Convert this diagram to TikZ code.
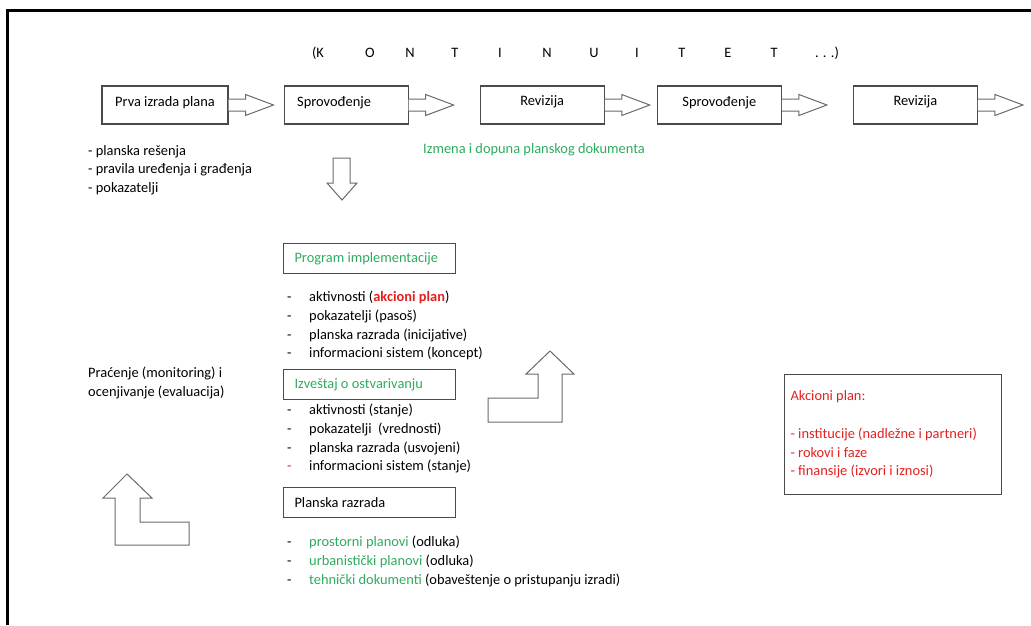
\documentclass[tikz,border=0pt]{standalone}
\usepackage{fontspec}
\setmainfont{Carlito}
\usepackage{tikz}
\usetikzlibrary{positioning,calc}
\definecolor{planred}{HTML}{E3201E}
\definecolor{plangreen}{HTML}{2EAB5E}
\definecolor{boxline}{HTML}{4A4A4A}
\definecolor{arrowline}{HTML}{6A6A6A}
\newcommand\planitem[2][black]{\makebox[22pt][l]{\color{#1}-}#2}
\tikzset{
  stagebox/.style={draw=boxline,line width=1.1pt,minimum width=#1,minimum height=38pt,
                   text depth=8pt,inner sep=0pt},
  stagebox/.default=124pt,
  headbox/.style={draw=boxline,line width=1.1pt,minimum width=172pt,minimum height=30pt,
                  text width=150pt,inner xsep=11pt,inner ysep=0pt,align=left,anchor=north west,
                  execute at begin node={\spaceskip=0pt\xspaceskip=0pt\relax}},
  notebox/.style={draw=boxline,line width=1.1pt,minimum width=217pt,minimum height=120pt,
                  text width=205pt,inner xsep=6pt,align=left,anchor=north west,text=planred,
                  execute at begin node={\spaceskip=0pt\xspaceskip=0pt\relax}},
  listtext/.style={align=left,inner sep=0pt,anchor=north west},
  hollow/.style={draw=arrowline,line width=1pt,fill=white,line join=miter},
}
\begin{document}
\begin{tikzpicture}[x=1pt,y=-1pt,font=\fontsize{14.4}{18.7}\selectfont]
  \useasboundingbox (0,0) rectangle (1031,625);
  \draw[line width=3pt] (7,625) |- (1031,10);
  % title row
  \foreach \ch/\cx [count=\i] in {{(K}/318,O/370,N/410,T/455,I/500,N/547,U/594,I/637,T/682,E/728,T/774,{. . .)}/827}
    \node[inner sep=0pt] (kont\i) at (\cx,53) {\ch};
  % planning cycle
  \node[stagebox=126pt] (prva) at (165,105) {Prva izrada plana};
  \node[stagebox, right=55pt of prva] (sprov1) {Sprovođenje\hspace*{24pt}};
  \node[stagebox, right=71pt of sprov1] (rev1) {Revizija};
  \node[stagebox, right=52pt of rev1] (sprov2) {Sprovođenje};
  \node[stagebox, right=71pt of sprov2] (rev2) {Revizija};
  \foreach \b in {prva,sprov1,rev1,sprov2,rev2}
    \draw[hollow] ($(\b.east)+(0,-6)$) -- ++(17,0) -- ++(0,-4.5) -- ($(\b.east)+(45,0)$)
      -- ($(\b.east)+(17,10.5)$) -- ++(0,-4.5) -- ($(\b.east)+(0,6)$);
  \node[listtext] (prvalist) at (88,145) {- planska rešenja\\- pravila uređenja i građenja\\- pokazatelji};
  \node[anchor=west,inner sep=0pt,text=plangreen] (izmena) at (423,150) {Izmena i dopuna planskog dokumenta};
  \draw[hollow] (333,158) -- (350,158) -- (350,183) -- (357,183) -- (342,200) -- (327,183) -- (333,183) -- cycle;
  % implementation
  \node[headbox,text=plangreen] (program) at (283,243) {Program implementacije};
  \node[listtext] (programlist) at (287,291) {\planitem{aktivnosti (\textbf{\color{planred}akcioni plan})}\\
     \planitem{pokazatelji (pasoš)}\\ \planitem{planska razrada (inicijative)}\\ \planitem{informacioni sistem (koncept)}};
  \node[headbox,text=plangreen] (izvestaj) at (283,369) {Izveštaj o ostvarivanju};
  \node[listtext] (izvestajlist) at (287,404) {\planitem{aktivnosti (stanje)}\\
     \planitem{pokazatelji~ (vrednosti)}\\ \planitem{planska razrada (usvojeni)}\\ \planitem[planred]{informacioni sistem (stanje)}};
  \node[headbox] (razrada) at (283,487) {Planska razrada};
  \node[listtext] (razradalist) at (287,536) {\planitem{\textcolor{plangreen}{prostorni planovi} (odluka)}\\
     \planitem{\textcolor{plangreen}{urbanistički planovi} (odluka)}\\
     \planitem{\textcolor{plangreen}{tehnički dokumenti} (obaveštenje o pristupanju izradi)}};
  \node[anchor=west,align=left,inner sep=0pt] (pracenje) at (88,383) {Praćenje (monitoring) i\\ocenjivanje (evaluacija)};
  \node[notebox] (akcioni) at (784,374) {Akcioni plan:\\[18.7pt]- institucije (nadležne i partneri)\\- rokovi i faze\\- finansije (izvori i iznosi)};
  % monitoring arrows
  \draw[hollow] (550,351) -- (574,374) -- (562,374) -- (562,422) -- (488,422) -- (488,398) -- (538,398) -- (538,374) -- (526,374) -- cycle;
  \draw[hollow] (127,474) -- (152,498) -- (140,498) -- (140,522) -- (189,522) -- (189,545) -- (115,545) -- (115,498) -- (103,498) -- cycle;
\end{tikzpicture}
\end{document}
